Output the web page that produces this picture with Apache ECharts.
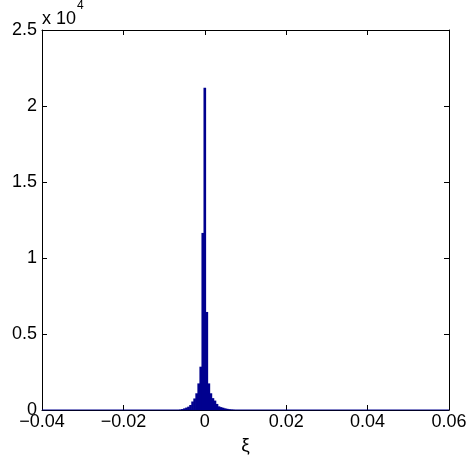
<!DOCTYPE html>
<html>
<head>
<meta charset="utf-8">
<script src="https://cdn.jsdelivr.net/npm/echarts@6/dist/echarts.min.js"></script>
<style>html,body{margin:0;padding:0;background:#fff}#c{width:470px;height:459px}</style>
</head>
<body>
<div id="c"></div>
<script>
// Histogram bins (centers) with nonzero counts; all other bins in [-0.04, 0.06] are zero
const binWidth = 0.0005;
const histRange = [-0.04, 0.06];
const binCenters = [-0.0060, -0.0055, -0.0050, -0.0045, -0.0040, -0.0035, -0.0030, -0.0025, -0.0020, -0.0015, -0.0010, -0.0005,
  0.0000, 0.0005, 0.0010, 0.0015, 0.0020, 0.0025, 0.0030, 0.0035, 0.0040, 0.0045, 0.0050, 0.0055, 0.0060, 0.0065, 0.0070];
const counts = [20, 60, 110, 160, 220, 330, 560, 760, 1100, 1750, 2850, 11650,
  21200, 6450, 1750, 1100, 780, 620, 400, 240, 190, 150, 110, 80, 50, 30, 15];
const xTicks = [-0.04, -0.02, 0, 0.02, 0.04, 0.06];
const yTicks = [0, 5000, 10000, 15000, 20000, 25000];

const navy = '#00008f';
const font = 'Liberation Sans, Arial, sans-serif';
const fmtX = v => (Math.abs(v) < 1e-12 ? '0' : v.toFixed(2).replace('-', '\u2212'));
const fmtY = v => String(+(v / 10000).toFixed(1));

const chart = echarts.init(document.getElementById('c'), null, {renderer: 'canvas'});
const axisCommon = {
  axisLine: {show: true, onZero: false, lineStyle: {color: '#000', width: 1}},
  axisTick: {show: true, inside: true, length: 5, lineStyle: {color: '#000'}},
  splitLine: {show: false}
};
chart.setOption({
  animation: false,
  grid: {left: 42, right: 21, top: 30, bottom: 49, containLabel: false, outerBoundsMode: 'none'},
  xAxis: [
    Object.assign({type: 'value', min: xTicks[0], max: xTicks[xTicks.length - 1], interval: 0.02,
      name: 'ξ', nameLocation: 'middle', nameGap: 25,
      nameTextStyle: {fontFamily: font, fontSize: 19, color: '#000'},
      axisLabel: {formatter: fmtX, fontFamily: font, fontSize: 18, color: '#000', margin: 3}}, axisCommon),
    Object.assign({type: 'value', position: 'top', min: xTicks[0], max: xTicks[xTicks.length - 1], interval: 0.02,
      axisLabel: {show: false}}, axisCommon)
  ],
  yAxis: [
    Object.assign({type: 'value', min: 0, max: 25000, interval: 5000,
      axisLabel: {formatter: fmtY, fontFamily: font, fontSize: 18, color: '#000', margin: 5}}, axisCommon),
    Object.assign({type: 'value', position: 'right', min: 0, max: 25000, interval: 5000,
      axisLabel: {show: false}}, axisCommon)
  ],
  graphic: [{
    type: 'text', left: 42, top: 0,
    style: {
      text: '{a|x 10}{b|4}',
      rich: {
        a: {fontFamily: font, fontSize: 18, fill: '#000', verticalAlign: 'bottom', lineHeight: 28},
        b: {fontFamily: font, fontSize: 12, fill: '#000', verticalAlign: 'top', lineHeight: 28, padding: [0, 0, 10, 1]}
      }
    }
  }],
  series: [
    {
      type: 'line', xAxisIndex: 0, yAxisIndex: 0, symbol: 'none', silent: true,
      lineStyle: {color: navy, width: 1},
      data: [[histRange[0], 0], [histRange[1], 0]], z: 3
    },
    {
      type: 'custom', xAxisIndex: 0, yAxisIndex: 0, z: 4,
      data: binCenters.map((c, i) => [c, counts[i]]),
      renderItem: function (params, api) {
        const c = api.value(0), v = api.value(1);
        const p0 = api.coord([c - binWidth / 2, v]);
        const p1 = api.coord([c + binWidth / 2, 0]);
        return {type: 'rect', shape: {x: p0[0] - 0.3, y: p0[1], width: p1[0] - p0[0] + 0.6, height: p1[1] - p0[1]},
          style: {fill: navy, stroke: null}};
      }
    }
  ]
});
</script>
</body>
</html>
